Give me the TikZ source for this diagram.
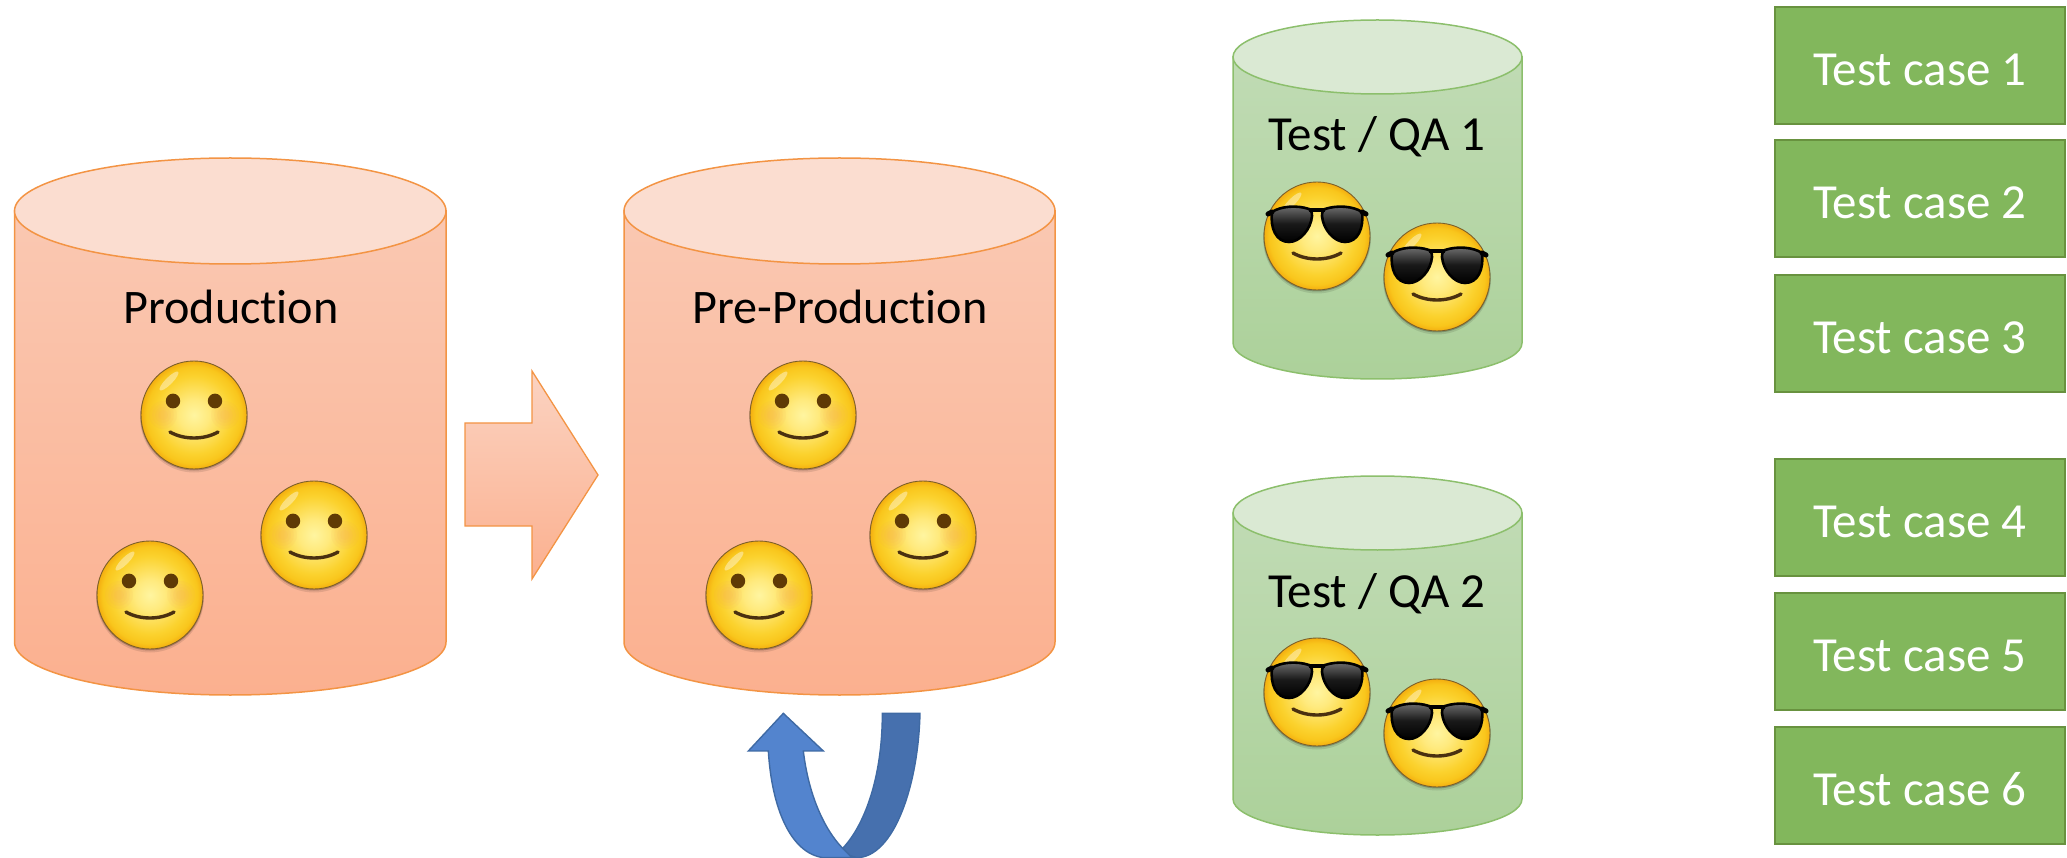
\documentclass[tikz,border=0pt]{standalone}
\usepackage{fontspec}
\setmainfont[Ligatures=NoCommon]{Carlito}
\definecolor{peachTop}{HTML}{FAC8B2}
\definecolor{peachBot}{HTML}{FBB08F}
\definecolor{peachLid}{HTML}{FBDDD0}
\definecolor{peachEdge}{HTML}{F39444}
\definecolor{greenTop}{HTML}{C0DBB4}
\definecolor{greenBot}{HTML}{ACD19A}
\definecolor{greenLid}{HTML}{DAE9D3}
\definecolor{greenEdge}{HTML}{8CBF6C}
\definecolor{caseFill}{HTML}{82B75C}
\definecolor{caseEdge}{HTML}{68923F}
\definecolor{uLight}{HTML}{5384CE}
\definecolor{uDark}{HTML}{4670AE}
\definecolor{uEdge}{HTML}{3F6AA4}
\definecolor{faceA}{HTML}{FFF5A0}
\definecolor{faceB}{HTML}{FFEA7E}
\definecolor{faceC}{HTML}{FBD22E}
\definecolor{faceD}{HTML}{F9C61C}
\definecolor{faceE}{HTML}{F4AE10}
\definecolor{faceLine}{HTML}{7C5F2A}
\definecolor{eyeCol}{HTML}{5F3A05}
\definecolor{mouthCol}{HTML}{4A3010}
\definecolor{blushCol}{HTML}{F9A060}
\pgfdeclareradialshading{facefill}{\pgfpoint{0bp}{0bp}}{color(0bp)=(faceA); color(7bp)=(faceB); color(18bp)=(faceC); color(22.5bp)=(faceD); color(25bp)=(faceE); color(50bp)=(faceE)}
\newcommand{\bigtext}{\fontsize{49}{59}\selectfont}
\newcommand{\midtext}{\fontsize{48.2}{58}\selectfont}
\newcommand{\drum}[7]{% left, right, mid y, lid ry, side bottom y, bottom ry, prefix
  \pgfmathsetmacro{\drumcx}{(#1+#2)/2}
  \pgfmathsetmacro{\drumrx}{(#2-#1)/2}
  \draw[draw=#7Edge,line width=1.5pt,top color=#7Top,bottom color=#7Bot]
    (#1,#3) -- (#1,#5) arc[start angle=180,end angle=0,x radius=\drumrx,y radius=#6] -- (#2,#3) -- cycle;
  \draw[draw=#7Edge,line width=1.5pt,fill=#7Lid] (\drumcx,#3) ellipse[x radius=\drumrx,y radius=#4];
}
\tikzset{
  label text/.style={font=\bigtext,anchor=base,inner sep=0pt,text=black},
  peach text/.style={font=\midtext,anchor=base,inner sep=0pt,text=black},
  case box/.style={draw=caseEdge,line width=2pt,fill=caseFill,minimum width=290pt,minimum height=117pt,inner sep=0pt},
  case text/.style={font=\bigtext,anchor=base,inner sep=0pt,text=white},
  facebase/.pic={
    \fill[black,opacity=.10] (0,2.5) ellipse[x radius=54,y radius=55];
    \fill[black,opacity=.22] (0,1.5) ellipse[x radius=53.5,y radius=54];
    \draw[faceLine,line width=.9pt,shading=facefill] (0,0) ellipse[x radius=53,y radius=54];
    \draw[mouthCol,line width=3.4pt,line cap=round] (-24,17) .. controls (-10,25) and (10,25) .. (24,17);
    \fill[white,opacity=.4,rotate around={45:(-25,-34)}] (-25,-34) ellipse[x radius=13,y radius=3.5];
  },
  happy/.pic={
    \pic {facebase};
    \foreach \s in {-1,1}{
      \foreach \r in {14,11,8,5}{
        \fill[blushCol,opacity=.08] (\s*31,0) circle[radius=\r];
      }
      \fill[eyeCol] (\s*21,-14) ellipse[x radius=7.2,y radius=7.4];
    }
  },
  cool/.pic={
    \pic {facebase};
    \foreach \s in {-1,1}{
      \shade[top color=black!55,bottom color=black,middle color=black!90,draw=black,line width=2.6pt,xscale=\s]
        (8,-27) .. controls (20,-31) and (36,-30) .. (45,-24)
        .. controls (47,-8) and (41,6) .. (28,6)
        .. controls (17,6) and (6,-7) .. (5,-20) .. controls (5,-24) and (6,-26) .. (8,-27) -- cycle;
      \draw[black,line width=5pt,line cap=round,xscale=\s] (45,-24) -- (49,-22);
    }
    \draw[black,line width=3.5pt] (-8,-26) -- (8,-26);
  }
}
\begin{document}
\begin{tikzpicture}[x=1pt,y=-1pt]
\useasboundingbox (0,0) rectangle (2067,858);

% Drums
\drum{14.5}{446}{211}{53}{642}{53}{peach}
\drum{624}{1055}{211}{53}{642}{53}{peach}
\drum{1233}{1522}{57}{37}{343}{36}{green}
\drum{1233}{1522}{513}{37}{799}{36}{green}

% Block arrow
\draw[draw=peachEdge,line width=1.3pt,top color=peachTop!80!white,bottom color=peachBot,line join=miter]
  (465,423) -- (532,423) -- (532,371) -- (598,475) -- (532,579) -- (532,526) -- (465,526) -- cycle;

% Labels
\node[peach text] (prod) at (231,324) {Production};
\node[peach text] (pre) at (840,324) {Pre-Production};
\node[label text] (qa1) at (1377,151) {Test / QA 1};
\node[label text] (qa2) at (1377,607) {Test / QA 2};

% Faces
\pic at (194,415) {happy};
\pic at (314,535) {happy};
\pic at (150,595) {happy};
\pic at (803,415) {happy};
\pic at (923,535) {happy};
\pic at (759,595) {happy};
\pic at (1317,236) {cool};
\pic at (1437,277) {cool};
\pic at (1317,692) {cool};
\pic at (1437,733) {cool};

% Test cases
\node[case box] (c1) at (1920,66) {};
\node[case box] (c2) at (1920,199) {};
\node[case box] (c3) at (1920,333.5) {};
\node[case box] (c4) at (1920,517.5) {};
\node[case box] (c5) at (1920,651) {};
\node[case box] (c6) at (1920,785.5) {};
\node[case text] (t1) at (1920,86) {Test case 1};
\node[case text] (t2) at (1920,219) {Test case 2};
\node[case text] (t3) at (1920,353.5) {Test case 3};
\node[case text] (t4) at (1920,537.5) {Test case 4};
\node[case text] (t5) at (1920,671) {Test case 5};
\node[case text] (t6) at (1920,805.5) {Test case 6};

% U-turn arrow
\begin{scope}[shift={(720,690)},x=.3333pt,y=-.3333pt,line width=1.4pt,draw=uEdge,line join=miter]
  \clip (0,0) rectangle (660,504);
  \draw[fill=uDark] (487,70) -- (600,70) .. controls (595,290) and (520,503) .. (410,503)
     -- (390,497) -- (368,475) .. controls (430,410) and (487,270) .. (487,70) -- cycle;
  \draw[fill=uLight] (190,70) -- (310,183) -- (250,183) .. controls (265,310) and (310,415) .. (368,475)
     -- (390,497) -- (405,503) -- (310,503) .. controls (210,490) and (155,350) .. (145,183)
     -- (85,183) -- cycle;
\end{scope}
\end{tikzpicture}
\end{document}
